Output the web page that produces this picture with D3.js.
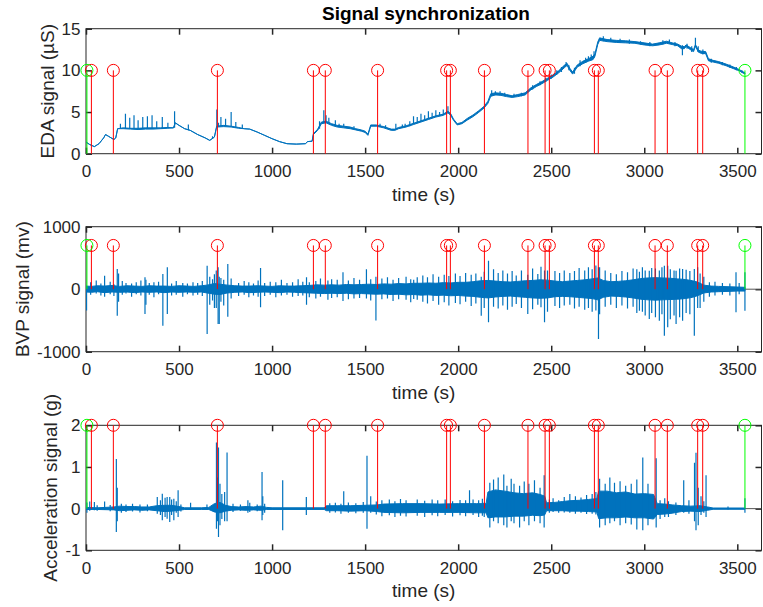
<!DOCTYPE html>
<html>
<head>
<meta charset="utf-8">
<script src="https://cdn.jsdelivr.net/npm/d3@7"></script>
<style>
  body { margin: 0; background: #fff; }
  svg { display: block; font-family: "Liberation Sans", Arial, sans-serif; }
</style>
</head>
<body>
<svg id="chart" width="763" height="607"></svg>
<script>
// ---- data ----
var timeTicks = [0, 500, 1000, 1500, 2000, 2500, 3000, 3500];
var edaTicks = [0, 5, 10, 15];
var bvpTicks = [-1000, 0, 1000];
var accTicks = [-1, 0, 1, 2];

// red = sync marks, green = start / end of recording (seconds)
var syncEvents = [29, 147, 706, 1222, 1286, 1567, 1938, 1958, 2141, 2375, 2467, 2490, 2732, 2753, 3058, 3124, 3287, 3314];
var boundaryEvents = [5, 3541];

// slow trace as [time, low, high] (low == high where the line is clean)
var edaSamples = [
  [0, 1.4, 1.4], [20, 1.1, 1.1], [45, 0.85, 0.85], [70, 1.2, 1.2], [95, 1.9, 1.9], [105, 2.3, 2.3],
  [120, 2.1, 2.1], [150, 1.7, 1.7], [160, 1.9, 1.9], [170, 3.0, 3.0], [200, 3.0, 3.1], [240, 2.95, 3.05],
  [280, 2.9, 3.05], [320, 2.95, 3.1], [360, 2.95, 3.1], [400, 3.0, 3.1], [440, 3.05, 3.15], [470, 3.1, 3.1],
  [480, 3.7, 3.7], [500, 3.4, 3.4], [530, 3.0, 3.0], [560, 2.8, 2.8], [600, 2.3, 2.3], [640, 1.9, 1.9],
  [665, 1.6, 1.6], [690, 2.0, 2.0], [702, 3.2, 3.3], [740, 3.25, 3.4], [780, 3.2, 3.3], [820, 3.05, 3.15],
  [850, 3.0, 3.0], [880, 2.95, 2.95], [920, 2.6, 2.6], [960, 2.2, 2.2], [1000, 1.8, 1.8], [1040, 1.45, 1.45],
  [1080, 1.2, 1.2], [1130, 1.15, 1.15], [1180, 1.2, 1.2], [1190, 1.45, 1.45], [1215, 1.5, 1.5],
  [1222, 2.3, 2.4], [1245, 2.8, 2.95], [1265, 3.6, 3.8], [1290, 3.7, 3.9], [1320, 3.4, 3.6], [1350, 3.2, 3.4],
  [1385, 3.1, 3.3], [1420, 3.0, 3.2], [1450, 2.85, 3.0], [1480, 2.7, 2.85], [1500, 2.55, 2.7], [1515, 2.2, 2.35],
  [1530, 3.3, 3.45], [1560, 3.3, 3.45], [1600, 3.1, 3.25], [1640, 2.8, 2.95], [1660, 2.8, 2.95],
  [1680, 3.0, 3.15], [1720, 3.2, 3.35], [1760, 3.5, 3.65], [1800, 3.8, 3.95], [1840, 4.1, 4.25],
  [1880, 4.4, 4.55], [1920, 4.6, 4.75], [1945, 4.9, 5.1], [1960, 4.6, 4.8], [1975, 4.0, 4.15],
  [1995, 3.45, 3.6], [2020, 3.6, 3.75], [2050, 4.05, 4.25], [2080, 4.45, 4.65], [2110, 4.95, 5.15],
  [2140, 5.5, 5.7], [2160, 6.05, 6.3], [2175, 6.9, 7.2], [2200, 7.05, 7.3], [2230, 7.0, 7.25], [2260, 6.85, 7.1],
  [2290, 6.75, 6.95], [2320, 6.85, 7.1], [2360, 7.05, 7.3], [2390, 7.65, 7.9], [2420, 8.05, 8.3],
  [2450, 8.4, 8.65], [2480, 8.8, 9.05], [2510, 9.2, 9.45], [2540, 9.7, 9.95], [2570, 10.3, 10.6],
  [2585, 10.6, 10.85], [2600, 10.0, 10.25], [2615, 9.55, 9.8], [2640, 10.4, 10.65], [2670, 10.8, 11.1],
  [2700, 11.1, 11.4], [2725, 11.3, 11.7], [2735, 11.7, 12.0], [2750, 13.1, 13.4], [2760, 13.6, 13.9],
  [2800, 13.45, 13.7], [2850, 13.35, 13.6], [2900, 13.3, 13.55], [2950, 13.25, 13.45], [3000, 13.05, 13.3],
  [3045, 12.95, 13.15], [3080, 13.05, 13.3], [3120, 13.25, 13.5], [3150, 13.1, 13.3], [3180, 12.95, 13.15],
  [3200, 12.6, 12.9], [3215, 12.6, 12.85], [3225, 12.85, 13.05], [3250, 12.45, 12.7], [3265, 12.25, 12.5],
  [3275, 12.9, 13.1], [3290, 12.2, 12.45], [3305, 12.05, 12.3], [3330, 12.0, 12.25], [3345, 11.15, 11.4],
  [3370, 11.0, 11.2], [3400, 10.85, 11.05], [3440, 10.55, 10.75], [3480, 10.2, 10.4], [3510, 9.95, 10.1],
  [3541, 9.55, 9.7]
];

// short peaks on top of the slow trace: [time, low, high]
var edaSpikes = [
  [185, 3.0, 3.6], [212, 3.0, 4.8], [235, 2.95, 4.3], [258, 2.95, 4.6], [280, 2.95, 4.0], [305, 3.0, 4.4],
  [330, 3.0, 4.5], [355, 3.0, 4.6], [380, 3.0, 3.9], [410, 3.05, 4.4], [440, 3.1, 3.7], [476, 3.1, 5.1],
  [550, 2.8, 3.5], [680, 1.8, 2.1], [703, 3.2, 5.3], [712, 3.2, 3.7], [725, 3.3, 4.4], [750, 3.3, 4.2],
  [780, 3.25, 5.0], [805, 3.1, 3.8], [840, 3.0, 3.5], [1255, 3.0, 3.9], [1278, 3.7, 5.2], [1290, 3.8, 4.6],
  [1305, 3.6, 4.3], [1340, 3.3, 4.0], [1360, 3.2, 3.6], [1385, 3.2, 3.6], [1440, 3.0, 3.3], [1580, 3.2, 3.6],
  [1610, 3.0, 3.4], [1665, 3.0, 3.6], [1700, 3.1, 3.5], [1715, 3.2, 3.6], [1740, 3.3, 3.9], [1760, 3.55, 4.5],
  [1780, 3.7, 4.4], [1800, 3.9, 4.8], [1820, 4.0, 4.6], [1840, 4.2, 5.1], [1860, 4.3, 4.9], [1880, 4.5, 5.2],
  [1900, 4.6, 5.0], [1920, 4.7, 5.3], [1945, 5.0, 5.7], [2180, 6.9, 7.6], [2200, 7.0, 7.5], [2225, 7.0, 7.5],
  [2250, 6.9, 7.3], [2300, 6.8, 7.2], [2340, 6.9, 7.3], [2400, 7.7, 8.2], [2440, 8.2, 8.7], [2470, 8.6, 9.1],
  [2500, 9.0, 9.5], [2530, 9.5, 10.0], [2555, 9.8, 10.4], [2580, 10.5, 11.0], [2595, 10.0, 10.6],
  [2625, 9.6, 10.3], [2655, 10.5, 11.2], [2685, 10.9, 11.5], [2700, 11.2, 11.7], [2715, 11.2, 11.9],
  [2730, 11.5, 12.3], [2780, 13.5, 14.1], [2820, 13.4, 13.9], [2870, 13.3, 13.8], [2920, 13.2, 13.7],
  [2980, 13.1, 13.5], [3030, 12.9, 13.4], [3100, 13.1, 13.6], [3135, 13.2, 13.7], [3165, 12.9, 13.4],
  [3205, 11.8, 13.0], [3230, 12.6, 13.2], [3255, 12.2, 12.9], [3275, 12.8, 13.9], [3290, 12.2, 12.9],
  [3315, 11.9, 12.5], [3360, 10.9, 11.4], [3420, 10.6, 11.0], [3460, 10.3, 10.7], [3495, 10.0, 10.4],
  [3525, 9.7, 10.0]
];

// dense signals: core band [time, low, high] plus separate excursions [time, low, high]
var bvpBand = [
  [0, -45, 50], [30, -50, 45], [60, -40, 55], [100, -55, 50], [140, -45, 60], [180, -50, 45], [220, -45, 55],
  [260, -55, 50], [300, -45, 45], [340, -50, 55], [380, -45, 50], [420, -55, 50], [460, -45, 45],
  [500, -50, 55], [540, -45, 50], [580, -50, 45], [620, -45, 55], [650, -60, 65], [690, -80, 90],
  [720, -85, 80], [760, -60, 65], [800, -50, 55], [840, -45, 50], [880, -55, 50], [920, -50, 55],
  [960, -45, 50], [1000, -50, 45], [1040, -55, 55], [1080, -45, 50], [1120, -50, 50], [1160, -55, 55],
  [1200, -60, 60], [1240, -65, 70], [1280, -70, 65], [1320, -65, 70], [1360, -70, 65], [1400, -65, 75],
  [1440, -75, 70], [1480, -70, 75], [1520, -75, 80], [1560, -80, 75], [1600, -75, 85], [1640, -85, 80],
  [1680, -80, 90], [1720, -90, 85], [1760, -85, 95], [1800, -95, 95], [1840, -90, 100], [1880, -100, 95],
  [1920, -95, 105], [1960, -105, 100], [2000, -100, 110], [2040, -110, 110], [2080, -115, 120],
  [2120, -130, 135], [2160, -140, 140], [2200, -125, 130], [2240, -115, 120], [2280, -110, 115],
  [2320, -120, 125], [2360, -130, 135], [2400, -140, 140], [2440, -145, 150], [2480, -140, 145],
  [2520, -120, 130], [2560, -115, 120], [2600, -120, 130], [2640, -130, 140], [2680, -140, 150],
  [2720, -150, 165], [2750, -170, 180], [2780, -130, 140], [2820, -110, 120], [2860, -115, 125],
  [2900, -125, 135], [2940, -140, 150], [2980, -160, 170], [3020, -170, 180], [3060, -175, 185],
  [3100, -170, 180], [3140, -165, 175], [3180, -160, 165], [3220, -150, 155], [3260, -130, 135],
  [3290, -100, 110], [3320, -60, 65], [3360, -45, 50], [3400, -40, 45], [3450, -35, 40], [3500, -30, 35],
  [3541, -30, 30]
];

var bvpSpikes = [
  [3, -340, 0], [25, -90, 110], [55, -70, 140], [80, -100, 90], [100, -120, 215], [130, -80, 120],
  [150, -110, 80], [168, -425, 323], [175, -200, 250], [195, -90, 130], [215, -70, 100], [245, -120, 90],
  [270, -80, 110], [295, -100, 140], [317, -397, 190], [322, -250, 150], [340, -90, 100], [365, -130, 110],
  [390, -80, 120], [413, -584, 243], [437, -397, 350], [460, -100, 90], [485, -90, 130], [520, -120, 100],
  [545, -80, 90], [575, -100, 110], [600, -90, 100], [625, -110, 130], [651, -717, 375], [665, -250, 200],
  [680, -180, 160], [690, -300, 240], [700, -300, 300], [710, -557, 350], [716, -557, 200], [725, -200, 180],
  [740, -260, 150], [762, -440, 403], [780, -150, 170], [820, -110, 100], [850, -90, 130], [875, -130, 110],
  [900, -100, 90], [925, -120, 140], [938, -290, 340], [960, -110, 100], [990, -90, 120], [1020, -130, 110],
  [1050, -100, 150], [1080, -90, 100], [1110, -120, 110], [1140, -110, 160], [1165, -100, 120],
  [1185, -250, 190], [1200, -130, 110], [1235, -150, 130], [1260, -120, 170], [1300, -170, 140],
  [1320, -140, 160], [1350, -130, 150], [1381, -190, 270], [1410, -160, 140], [1440, -150, 180],
  [1470, -140, 150], [1507, -150, 320], [1530, -180, 160], [1558, -500, 200], [1590, -160, 170],
  [1620, -150, 190], [1650, -190, 150], [1680, -160, 180], [1720, -170, 200], [1745, -210, 160],
  [1761, -155, 150], [1780, -170, 190], [1810, -200, 220], [1835, -230, 190], [1865, -190, 240],
  [1895, -250, 200], [1925, -210, 230], [1950, -260, 210], [1985, -220, 250], [2010, -240, 210],
  [2040, -200, 260], [2070, -270, 230], [2095, -230, 250], [2124, -425, 200], [2140, -300, 280],
  [2163, -530, 455], [2190, -280, 320], [2215, -310, 260], [2240, -260, 300], [2265, -330, 250],
  [2290, -280, 290], [2312, -237, 220], [2340, -300, 300], [2374, -397, 230], [2400, -320, 330],
  [2428, -250, 243], [2445, -290, 360], [2464, -530, 300], [2480, -360, 300], [2520, -270, 290],
  [2545, -300, 260], [2570, -260, 300], [2600, -250, 260], [2625, -310, 290], [2650, -280, 340],
  [2680, -330, 300], [2700, -300, 350], [2720, -360, 320], [2740, -340, 380], [2754, -797, 350],
  [2760, -400, 350], [2790, -280, 300], [2820, -250, 260], [2850, -300, 240], [2880, -260, 290],
  [2910, -310, 270], [2940, -280, 330], [2960, -380, 320], [2974, -343, 280], [2990, -360, 350],
  [3005, -420, 300], [3027, -477, 296], [3040, -380, 340], [3060, -450, 330], [3081, -503, 300],
  [3095, -400, 350], [3108, -743, 376], [3126, -610, 376], [3140, -480, 320], [3160, -420, 300],
  [3171, -557, 296], [3190, -450, 330], [3206, -503, 323], [3225, -380, 310], [3245, -400, 290],
  [3269, -743, 323], [3287, -300, 350], [3300, -300, 250], [3320, -200, 200], [3350, -120, 110],
  [3380, -100, 120], [3420, -90, 100], [3460, -100, 90], [3493, -370, 270], [3510, -80, 100],
  [3541, -343, 270]
];

var accBand = [
  [0, -0.02, 0.03], [60, -0.02, 0.02], [150, -0.03, 0.04], [180, -0.05, 0.06], [220, -0.04, 0.05],
  [260, -0.03, 0.05], [300, -0.04, 0.04], [340, -0.03, 0.04], [380, -0.05, 0.07], [420, -0.07, 0.08],
  [460, -0.06, 0.08], [500, -0.04, 0.05], [530, -0.02, 0.02], [620, -0.02, 0.02], [660, -0.02, 0.03],
  [690, -0.08, 0.12], [720, -0.1, 0.15], [750, -0.06, 0.08], [780, -0.04, 0.05], [820, -0.03, 0.04],
  [860, -0.04, 0.05], [900, -0.03, 0.04], [940, -0.04, 0.06], [970, -0.02, 0.03], [1000, -0.02, 0.02],
  [1280, -0.02, 0.02], [1292, -0.05, 0.07], [1350, -0.05, 0.07], [1420, -0.06, 0.07], [1500, -0.05, 0.08],
  [1565, -0.07, 0.09], [1600, -0.09, 0.11], [1700, -0.1, 0.12], [1800, -0.09, 0.12], [1900, -0.09, 0.11],
  [2000, -0.09, 0.12], [2100, -0.1, 0.12], [2150, -0.1, 0.12], [2160, -0.22, 0.4], [2200, -0.2, 0.45],
  [2250, -0.2, 0.42], [2300, -0.18, 0.38], [2350, -0.18, 0.36], [2400, -0.16, 0.38], [2440, -0.17, 0.34],
  [2465, -0.15, 0.3], [2475, -0.05, 0.14], [2520, -0.05, 0.15], [2560, -0.05, 0.17], [2600, -0.06, 0.19],
  [2650, -0.06, 0.2], [2700, -0.07, 0.22], [2745, -0.08, 0.24], [2755, -0.24, 0.42], [2800, -0.22, 0.42],
  [2850, -0.22, 0.38], [2900, -0.2, 0.4], [2950, -0.22, 0.35], [3000, -0.22, 0.36], [3050, -0.25, 0.34],
  [3070, -0.14, 0.12], [3110, -0.13, 0.11], [3150, -0.11, 0.09], [3200, -0.07, 0.07], [3250, -0.06, 0.06],
  [3300, -0.07, 0.07], [3340, -0.04, 0.04], [3370, -0.015, 0.015], [3541, -0.015, 0.015]
];

var accSpikes = [
  [5, -0.1, 0.15], [20, -0.05, 0.17], [45, -0.04, 0.16], [60, -0.05, 0.08], [100, -0.03, 0.17],
  [130, -0.06, 0.09], [163, -0.56, 1.19], [168, -0.3, 0.5], [190, -0.1, 0.12], [215, -0.08, 0.1],
  [250, -0.07, 0.12], [290, -0.09, 0.1], [330, -0.06, 0.1], [383, -0.12, 0.28], [400, -0.15, 0.2],
  [410, -0.28, 0.36], [425, -0.2, 0.26], [436, -0.24, 0.28], [450, -0.32, 0.28], [460, -0.15, 0.22],
  [472, -0.28, 0.24], [485, -0.1, 0.18], [495, -0.2, 0.44], [510, -0.07, 0.1], [562, -0.03, 0.14],
  [650, -0.02, 0.1], [701, -0.48, 1.59], [706, -0.3, 0.75], [712, -0.68, 1.47], [720, -0.4, 0.6],
  [730, -0.25, 0.35], [745, -0.3, 0.4], [758, -0.3, 1.35], [790, -0.08, 0.12], [830, -0.05, 0.1],
  [870, -0.1, 0.2], [880, -0.08, 0.14], [920, -0.06, 0.1], [946, -0.28, 0.88], [950, -0.15, 0.3],
  [960, -0.1, 0.12], [1057, -0.52, 0.68], [1184, -0.15, 0.28], [1310, -0.1, 0.13], [1340, -0.09, 0.14],
  [1370, -0.12, 0.12], [1385, -0.05, 0.42], [1410, -0.1, 0.15], [1450, -0.11, 0.13], [1490, -0.1, 0.16],
  [1510, -0.48, 1.27], [1530, -0.1, 0.3], [1560, -0.14, 0.17], [1590, -0.18, 0.2], [1630, -0.16, 0.22],
  [1660, -0.2, 0.18], [1690, -0.17, 0.23], [1720, -0.19, 0.2], [1780, -0.17, 0.22], [1820, -0.2, 0.19],
  [1860, -0.16, 0.22], [1890, -0.18, 0.2], [1930, -0.15, 0.22], [1970, -0.19, 0.18], [2010, -0.16, 0.21],
  [2040, -0.18, 0.2], [2061, -0.1, 0.44], [2080, -0.15, 0.22], [2110, -0.2, 0.2], [2130, -0.17, 0.24],
  [2140, -0.2, 0.15], [2170, -0.45, 0.62], [2190, -0.3, 0.7], [2215, -0.35, 0.75], [2245, -0.4, 0.82],
  [2262, -0.45, 0.55], [2285, -0.3, 0.72], [2300, -0.35, 0.6], [2330, -0.45, 0.55], [2355, -0.3, 0.65],
  [2380, -0.4, 0.6], [2410, -0.3, 0.68], [2440, -0.35, 0.5], [2462, -0.45, 0.8], [2490, -0.1, 0.22],
  [2510, -0.08, 0.25], [2540, -0.1, 0.2], [2570, -0.09, 0.28], [2600, -0.1, 0.35], [2630, -0.12, 0.3],
  [2660, -0.1, 0.27], [2690, -0.13, 0.33], [2720, -0.12, 0.35], [2740, -0.14, 0.4], [2760, -0.45, 0.72],
  [2790, -0.4, 0.6], [2815, -0.35, 0.75], [2840, -0.3, 0.62], [2870, -0.4, 0.66], [2900, -0.35, 0.55],
  [2930, -0.38, 0.6], [2960, -0.5, 0.7], [2992, -0.52, 1.23], [3020, -0.4, 0.6], [3064, -0.45, 1.21],
  [3085, -0.25, 0.2], [3110, -0.2, 0.25], [3130, -0.2, 0.18], [3170, -0.15, 0.15], [3212, -0.1, 0.68],
  [3240, -0.12, 0.2], [3270, -0.3, 1.1], [3278, -0.52, 1.34], [3290, -0.4, 0.5], [3305, -0.15, 0.3],
  [3320, -0.1, 0.18], [3332, -0.2, 0.8], [3450, -0.02, 0.05], [3541, -0.1, 0.25]
];

// ---- layout ----
var svg = d3.select('#chart'),
    left = 86, right = 761.5, panelHeight = 125,
    ink = '#262626', blue = '#0072BD';

var x = d3.scaleLinear().domain([0, 3630]).range([left, right]);

var panels = [
  { top: 28.7, domain: [0, 15], ticks: edaTicks, label: 'EDA signal (\u00b5S)', labelX: 47, stem: 10, band: edaSamples, spikes: edaSpikes },
  { top: 226.7, domain: [-1000, 1000], ticks: bvpTicks, label: 'BVP signal (mv)', labelX: 22, stem: 700, band: bvpBand, spikes: bvpSpikes },
  { top: 425.3, domain: [-1, 2], ticks: accTicks, label: 'Acceleration signal (g)', labelX: 50, stem: 2, band: accBand, spikes: accSpikes }
];

function plain(d) { return String(d); }

svg.append('text')
    .attr('x', 426).attr('y', 20)
    .attr('text-anchor', 'middle')
    .style('font-size', '19px').style('font-weight', 'bold')
    .attr('fill', '#000')
    .text('Signal synchronization');

function styleAxis(sel) {
  sel.select('.domain').remove();
  sel.attr('font-family', null).attr('font-size', null).style('color', ink);
  sel.selectAll('.tick line').attr('stroke-width', 1.5);
  sel.selectAll('.tick text').style('font-size', '17px').attr('fill', ink);
}

panels.forEach(function (p, i) {
  var bottom = p.top + panelHeight;
  var y = d3.scaleLinear().domain(p.domain).range([bottom, p.top]);
  var g = svg.append('g');

  // frame
  g.append('rect')
      .attr('x', left).attr('y', p.top)
      .attr('width', right - left).attr('height', panelHeight)
      .attr('fill', 'none').attr('stroke', ink).attr('stroke-width', 1);

  g.append('g').attr('transform', 'translate(0,' + bottom + ')')
      .call(d3.axisBottom(x).tickValues(timeTicks).tickFormat(plain).tickSize(-6).tickPadding(11.6))
      .call(styleAxis);
  g.append('g').attr('transform', 'translate(0,' + p.top + ')')
      .call(d3.axisTop(x).tickValues(timeTicks).tickSize(-6).tickFormat(''))
      .call(styleAxis);
  g.append('g').attr('transform', 'translate(' + left + ',0)')
      .call(d3.axisLeft(y).tickValues(p.ticks).tickFormat(plain).tickSize(-6).tickPadding(5.5))
      .call(styleAxis);
  g.append('g').attr('transform', 'translate(' + right + ',0)')
      .call(d3.axisRight(y).tickValues(p.ticks).tickSize(-6).tickFormat(''))
      .call(styleAxis);

  g.append('text')
      .attr('x', (left + right) / 2).attr('y', bottom + 47)
      .attr('text-anchor', 'middle').attr('fill', ink)
      .style('font-size', '19px')
      .text('time (s)');

  g.append('text')
      .attr('transform', 'translate(' + p.labelX + ',' + (p.top + panelHeight / 2) + ') rotate(-90)')
      .attr('dy', '0.35em')
      .attr('text-anchor', 'middle').attr('fill', ink)
      .style('font-size', '19px')
      .text(p.label);

  // signal
  svg.append('clipPath').attr('id', 'clip' + i).append('rect')
      .attr('x', left).attr('y', p.top).attr('width', right - left).attr('height', panelHeight);
  var plot = g.append('g').attr('clip-path', 'url(#clip' + i + ')');

  plot.append('line')
      .attr('x1', left).attr('x2', right)
      .attr('y1', y(0)).attr('y2', y(0))
      .attr('stroke', '#555').attr('stroke-width', 1);

  var area = d3.area()
      .x(function (d) { return x(d[0]); })
      .y0(function (d) { return y(d[1]); })
      .y1(function (d) { return y(d[2]); });

  plot.append('path').datum(p.band)
      .attr('d', area)
      .attr('fill', blue).attr('stroke', blue).attr('stroke-width', 1)
      .attr('stroke-linejoin', 'round');

  plot.selectAll('.spike').data(p.spikes).enter().append('line')
      .attr('class', 'spike')
      .attr('x1', function (d) { return x(d[0]); }).attr('x2', function (d) { return x(d[0]); })
      .attr('y1', function (d) { return y(d[1]); }).attr('y2', function (d) { return y(d[2]); })
      .attr('stroke', blue).attr('stroke-width', 1.2);

  // stems
  function stems(times, color) {
    var s = g.append('g');
    s.selectAll('line').data(times).enter().append('line')
        .attr('x1', function (d) { return x(d); }).attr('x2', function (d) { return x(d); })
        .attr('y1', y(0)).attr('y2', y(p.stem))
        .attr('stroke', color).attr('stroke-width', 1);
    s.selectAll('circle').data(times).enter().append('circle')
        .attr('cx', function (d) { return x(d); }).attr('cy', y(p.stem))
        .attr('r', 6)
        .attr('fill', 'none').attr('stroke', color).attr('stroke-width', 1);
  }
  stems(syncEvents, '#FF0000');
  stems(boundaryEvents, '#00FF00');
});
</script>
</body>
</html>
